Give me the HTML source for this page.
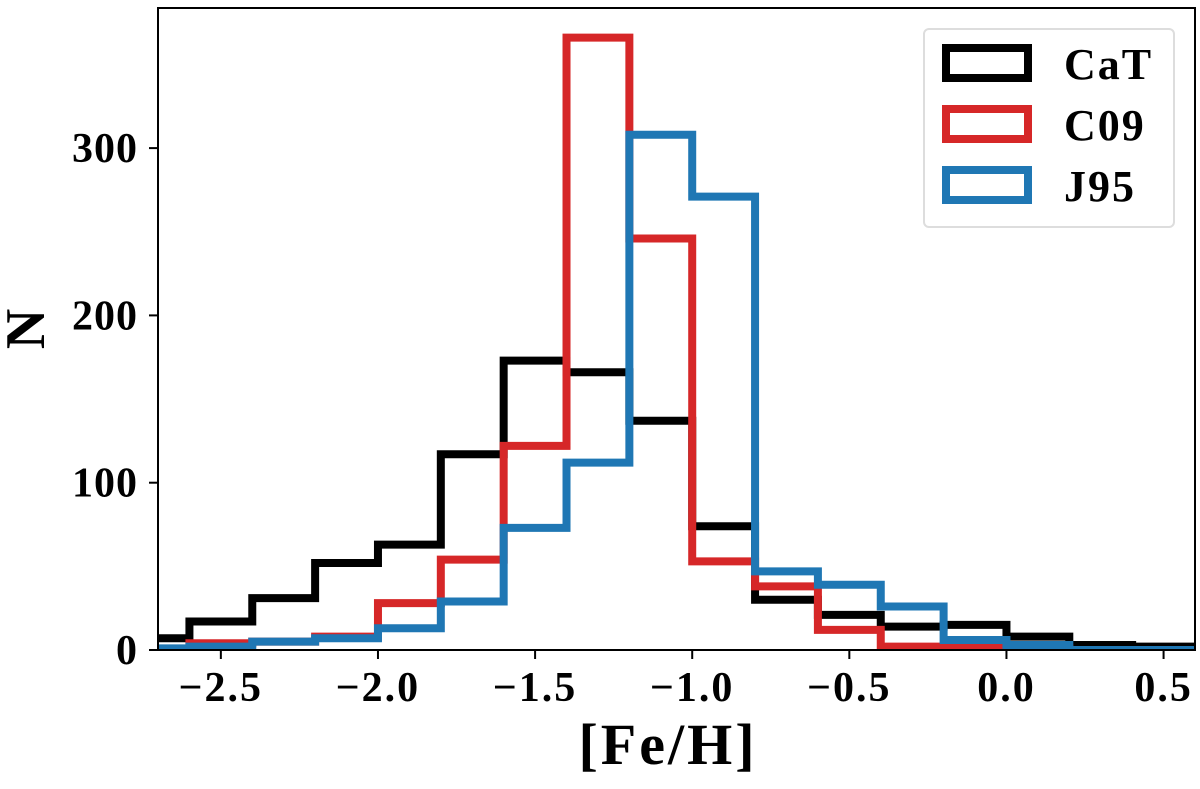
<!DOCTYPE html>
<html><head><meta charset="utf-8"><style>
body{margin:0;background:#fff;width:1200px;height:784px;overflow:hidden}
svg text{font-family:"Liberation Serif",serif;font-weight:bold;fill:#000}
</style></head><body>
<svg id="chart" width="1200" height="784" viewBox="0 0 1200 784" xmlns="http://www.w3.org/2000/svg">
<defs><clipPath id="pc"><rect x="158" y="8" width="1037" height="642"/></clipPath></defs>
<g id="series" clip-path="url(#pc)"></g>
<rect x="158" y="8" width="1037" height="642" fill="none" stroke="#000" stroke-width="2"/>
<g id="xt"></g><g id="yt"></g>
<text x="668" y="764" font-size="58" letter-spacing="3" text-anchor="middle">[Fe/H]</text>
<text transform="translate(44,329) rotate(-90)" font-size="56" text-anchor="middle">N</text>
<g id="legend">
<rect x="924" y="29" width="250" height="198" rx="5" fill="#fff" stroke="#ddd" stroke-width="2"/>
</g>
</svg>
<script>
const binEdges=[-2.8,-2.6,-2.4,-2.2,-2.0,-1.8,-1.6,-1.4,-1.2,-1.0,-0.8,-0.6,-0.4,-0.2,0.0,0.2,0.4,0.6];
const catCounts=[7,17,31,52,63,117,173,166,137,74,30,21,14,15,8,3,2];
const c09Counts=[0,4,5,8,28,54,122,366,246,53,38,12,2,2,1,0,0];
const j95Counts=[1,2,5,7,13,29,73,112,308,271,47,39,26,6,3,0,0];
const seriesNames=["CaT","C09","J95"];
const seriesColors=["#000000","#d62728","#1f77b4"];
const xTicks=[-2.5,-2.0,-1.5,-1.0,-0.5,0.0,0.5];
const xTickLabels=["\u22122.5","\u22122.0","\u22121.5","\u22121.0","\u22120.5","0.0","0.5"];
const yTicks=[0,100,200,300];
const yTickLabels=["0","100","200","300"];
const NS="http://www.w3.org/2000/svg";
const X=v=>158+(v+2.7)/3.3*1037;
const Y=v=>650-v*1.673;
function mk(tag,parent){const e=document.createElementNS(NS,tag);parent.appendChild(e);return e;}
const sg=document.getElementById('series');
[catCounts,c09Counts,j95Counts].forEach((c,i)=>{
  let d=`M${X(binEdges[0])},${Y(0)}`;
  for(let k=0;k<c.length;k++){d+=` L${X(binEdges[k])},${Y(c[k])} L${X(binEdges[k+1])},${Y(c[k])}`;}
  d+=` L${X(binEdges[c.length])},${Y(0)}`;
  const p=mk('path',sg);
  
  
  p.setAttribute('d',d);p.setAttribute('fill','none');p.setAttribute('stroke',seriesColors[i]);
  p.setAttribute('stroke-width','8');p.setAttribute('stroke-linejoin','miter');
});
const xt=document.getElementById('xt');
xTicks.forEach((v,i)=>{
  const l=mk('line',xt);
  
  
  l.setAttribute('x1',X(v));l.setAttribute('x2',X(v));l.setAttribute('y1',650);l.setAttribute('y2',659);l.setAttribute('stroke','#000');l.setAttribute('stroke-width','2');
  const t=mk('text',xt);
  
  
  t.setAttribute('x',X(v));t.setAttribute('y',701);t.setAttribute('font-size','42');t.setAttribute('letter-spacing','2');t.setAttribute('text-anchor','middle');
  t.textContent=xTickLabels[i];
});
const yt=document.getElementById('yt');
yTicks.forEach((v,i)=>{
  const l=mk('line',yt);
  
  
  l.setAttribute('x1',149);l.setAttribute('x2',158);l.setAttribute('y1',Y(v));l.setAttribute('y2',Y(v));l.setAttribute('stroke','#000');l.setAttribute('stroke-width','2');
  const t=mk('text',yt);
  
  
  t.setAttribute('x',138);t.setAttribute('y',Y(v)+14);t.setAttribute('font-size','42');t.setAttribute('letter-spacing','1');t.setAttribute('text-anchor','end');
  t.textContent=yTickLabels[i];
});
const lg=document.getElementById('legend');
seriesNames.forEach((n,i)=>{
  const y0=48+i*61;
  const r=mk('rect',lg);
  
  
  r.setAttribute('x',946);r.setAttribute('y',y0);r.setAttribute('width',82);r.setAttribute('height',30);
  r.setAttribute('fill','none');r.setAttribute('stroke',seriesColors[i]);r.setAttribute('stroke-width','8');
  const t=mk('text',lg);
  
  
  t.setAttribute('x',1064);t.setAttribute('y',y0+31);t.setAttribute('font-size','44');t.setAttribute('letter-spacing','2');
  t.textContent=n;
});
</script>
</body></html>
